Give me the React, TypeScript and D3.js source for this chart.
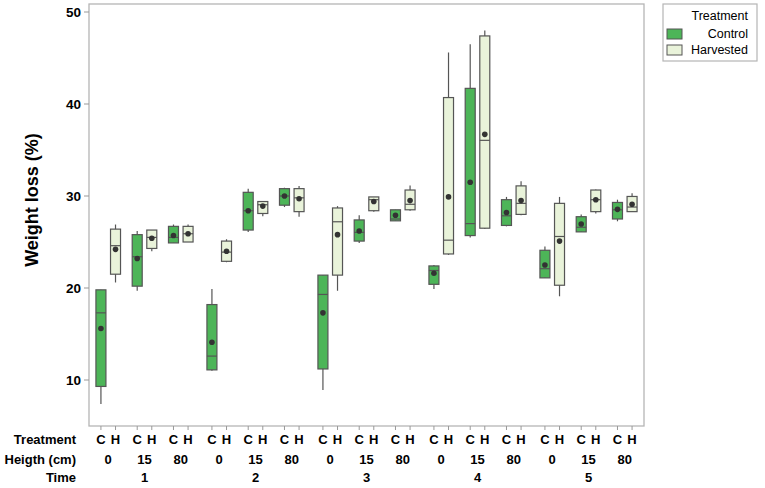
import React from "react";
import * as d3 from "d3";

const times = ["1", "2", "3", "4", "5"];
const heights = ["0", "15", "80"];
const treatments = ["C", "H"];
const legendNames = ["Control", "Harvested"];

// per box, ordered time -> height -> treatment (C, H)
const whiskerLow = [7.4, 20.6, 19.7, 24.0, 24.9, 25.0, 11.0, 22.8, 26.1, 27.8, 28.8, 27.75, 8.9, 19.7, 24.9, 28.3, 27.3, 28.4, 19.9, 23.6, 25.5, 26.4, 26.7, 27.9, 21.1, 19.1, 26.1, 28.1, 27.25, 28.3];
const q1 = [9.3, 21.5, 20.2, 24.3, 24.9, 25.0, 11.1, 22.9, 26.3, 28.1, 29.0, 28.3, 11.2, 21.4, 25.1, 28.4, 27.3, 28.5, 20.4, 23.7, 25.7, 26.5, 26.8, 28.0, 21.1, 20.3, 26.1, 28.3, 27.5, 28.3];
const median = [17.3, 24.6, 23.4, 25.5, 25.5, 25.9, 12.6, 23.9, 28.4, 29.05, 30.0, 29.8, 19.3, 27.2, 26.05, 29.6, 27.5, 29.1, 21.9, 25.2, 27.0, 36.05, 27.85, 29.2, 22.1, 25.6, 26.6, 29.6, 28.5, 28.8];
const q3 = [19.8, 26.4, 25.8, 26.3, 26.7, 26.7, 18.2, 25.1, 30.4, 29.4, 30.8, 30.8, 21.4, 28.7, 27.4, 29.9, 28.5, 30.65, 22.4, 40.7, 41.7, 47.4, 29.6, 31.1, 24.1, 29.2, 27.75, 30.65, 29.3, 29.95];
const whiskerHigh = [19.8, 26.9, 26.2, 26.3, 26.9, 26.9, 19.9, 25.3, 30.8, 29.4, 30.9, 31.1, 21.4, 28.9, 27.9, 29.9, 28.5, 31.15, 22.5, 45.6, 46.5, 48.0, 29.9, 31.6, 24.5, 29.9, 28.0, 30.7, 29.6, 30.3];
const means = [15.6, 24.2, 23.2, 25.4, 25.7, 25.9, 14.1, 24.0, 28.4, 28.9, 30.0, 29.7, 17.3, 25.8, 26.2, 29.4, 27.9, 29.5, 21.6, 29.9, 31.5, 36.7, 28.2, 29.5, 22.5, 25.1, 26.95, 29.6, 28.55, 29.1];
const yTicks = [10, 20, 30, 40, 50];

const W = 765, H = 488;
const left = 89, right = 644, top = 4, bottom = 426;
const fills = ["#4db558", "#e9f3da"];
const stroke = "#555";
const font = "Arial, 'Liberation Sans', sans-serif";

export default function App() {
  const y = d3.scaleLinear().domain([5, 50.87]).range([bottom, top]);
  const xTime = d3.scaleBand().domain(times).range([left, right]).padding(0);
  const xHeight = d3.scaleBand().domain(heights).range([0, xTime.bandwidth()]).paddingInner(0).paddingOuter(0.03);
  const xTreat = d3.scalePoint().domain(treatments).range([0, xHeight.bandwidth()]).padding(0.743);
  const boxW = 10;

  const boxes = [];
  times.forEach((t, ti) => heights.forEach((h, hi) => treatments.forEach((c, ci) => {
    const i = ti * 6 + hi * 2 + ci;
    const cx = (xTime(t) as number) + (xHeight(h) as number) + (xTreat(c) as number);
    boxes.push({ i, cx, ci, t, h, c });
  })));

  return (
    <svg width={W} height={H} style={{ position: "absolute", left: 0, top: 0, background: "#fff" }} fontFamily={font}>
      <rect x={left} y={top} width={right - left} height={bottom - top} fill="#fff" stroke="#b5b5b5" strokeWidth={1.3} />
      {yTicks.map(v => (
        <g key={v}>
          <line x1={left - 5} x2={left} y1={y(v)} y2={y(v)} stroke="#999" />
          <text x={left - 8} y={y(v)} dy="0.35em" textAnchor="end" fontSize={13.5} fontWeight="bold">{v}</text>
        </g>
      ))}
      <text transform="translate(38,200) rotate(-90)" textAnchor="middle" fontSize={18} fontWeight="bold">Weight loss (%)</text>
      {boxes.map(b => (
        <g key={b.i}>
          <line x1={b.cx} x2={b.cx} y1={y(whiskerHigh[b.i])} y2={y(whiskerLow[b.i])} stroke={stroke} strokeWidth={1.2} />
          <rect x={b.cx - boxW / 2} y={y(q3[b.i])} width={boxW} height={y(q1[b.i]) - y(q3[b.i])} fill={fills[b.ci]} stroke={stroke} strokeWidth={1.2} />
          <line x1={b.cx - boxW / 2} x2={b.cx + boxW / 2} y1={y(median[b.i])} y2={y(median[b.i])} stroke={stroke} strokeWidth={1.2} />
          <circle cx={b.cx} cy={y(means[b.i])} r={2.8} fill="#333" />
          <line x1={b.cx} x2={b.cx} y1={bottom} y2={bottom + 4} stroke="#999" />
          <text x={b.cx} y={444} textAnchor="middle" fontSize={13} fontWeight="bold">{b.c}</text>
        </g>
      ))}
      {times.map(t => heights.map(h => (
        <text key={t + h} x={(xTime(t) as number) + (xHeight(h) as number) + xHeight.bandwidth() / 2} y={464} textAnchor="middle" fontSize={13} fontWeight="bold">{h}</text>
      )))}
      {times.map(t => (
        <text key={t} x={(xTime(t) as number) + xTime.bandwidth() / 2} y={482} textAnchor="middle" fontSize={13} fontWeight="bold">{t}</text>
      ))}
      <text x={76} y={444} textAnchor="end" fontSize={13} fontWeight="bold">Treatment</text>
      <text x={76} y={464} textAnchor="end" fontSize={13} fontWeight="bold">Heigth (cm)</text>
      <text x={76} y={482} textAnchor="end" fontSize={13} fontWeight="bold">Time</text>
      <g>
        <rect x={663} y={4} width={94} height={57} fill="#fff" stroke="#b5b5b5" strokeWidth={1.2} />
        <text x={748} y={20} textAnchor="end" fontSize={12.5}>Treatment</text>
        {legendNames.map((n, i) => (
          <g key={n}>
            <rect x={667} y={29 + i * 16} width={15} height={10} fill={fills[i]} stroke={stroke} />
            <text x={748} y={38 + i * 16} textAnchor="end" fontSize={12.5}>{n}</text>
          </g>
        ))}
      </g>
    </svg>
  );
}
